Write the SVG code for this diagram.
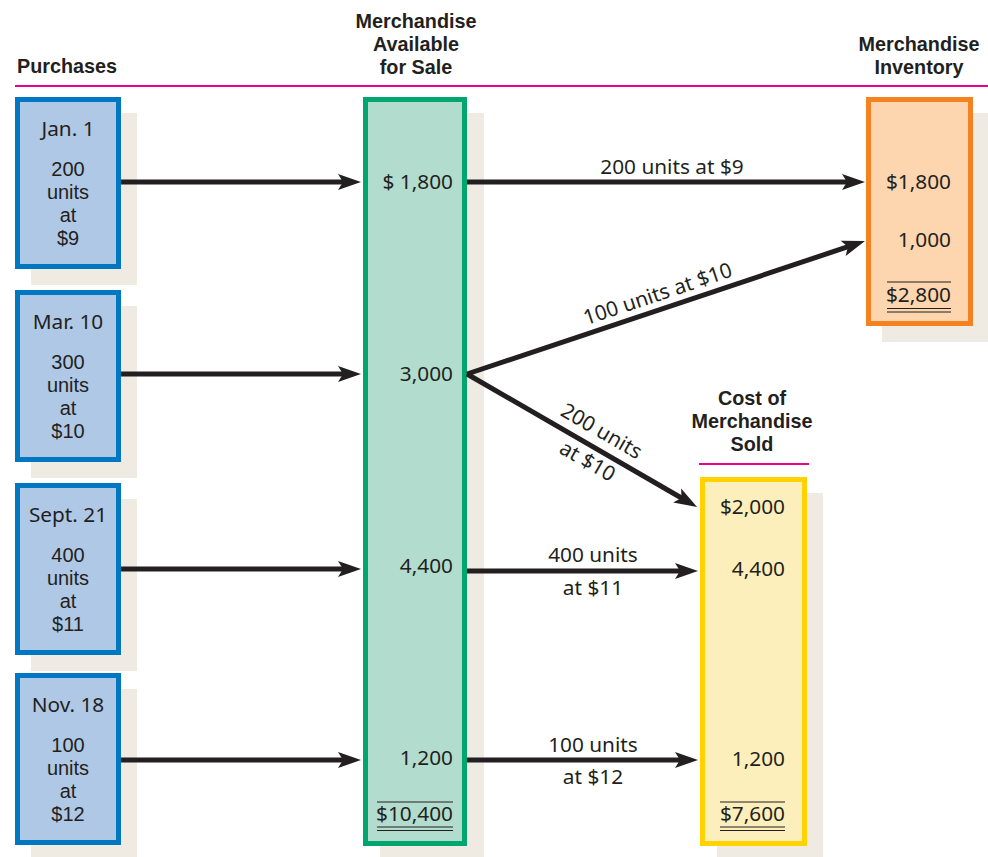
<svg xmlns="http://www.w3.org/2000/svg" width="988" height="857" viewBox="0 0 988 857">
<defs>
<style>
text{font-family:"Noto Sans","Open Sans","Liberation Sans",sans-serif;fill:#231F20;font-size:20.8px}
.h{font-weight:bold;font-size:19.8px;font-family:"Liberation Sans","Noto Sans",sans-serif}
.st{font-family:"Liberation Sans","Noto Sans",sans-serif;font-size:20px}
.m{text-anchor:middle}
.r{text-anchor:end}
.sh{fill:#EFEBE2}
.pb{fill:#AEC8E6;stroke:#0077C0;stroke-width:5}
.ln{stroke:#231F20;stroke-width:5;fill:none;marker-end:url(#ah)}
.rule{stroke:#EC008C;stroke-width:2}
.ul{stroke:#231F20;stroke-width:1.2}
</style>
<marker id="ah" markerUnits="userSpaceOnUse" markerWidth="30" markerHeight="20" viewBox="0 -10 26 20" refX="13" refY="0" orient="auto">
<path d="M0,-8 L23,0 L0,8 L5,0 Z" fill="#231F20"/>
</marker>
</defs>
<rect width="988" height="857" fill="#fff"/>

<g id="headers">
<line class="rule" x1="15" y1="86" x2="988" y2="86"/>
<text class="h" x="17" y="73">Purchases</text>
<text class="h m" x="416" y="28">Merchandise</text>
<text class="h m" x="416" y="51">Available</text>
<text class="h m" x="416" y="74">for Sale</text>
<text class="h m" x="919" y="51">Merchandise</text>
<text class="h m" x="919" y="74">Inventory</text>
</g>

<g id="purchase-jan1">
<rect class="sh" x="31" y="113" width="106" height="172"/>
<rect class="pb" x="17.5" y="99.5" width="101" height="167"/>
<text class="m" x="68" y="136">Jan. 1</text>
<text class="m st" x="68" y="176">200</text>
<text class="m st" x="68" y="199">units</text>
<text class="m st" x="68" y="222">at</text>
<text class="m st" x="68" y="245">$9</text>
</g>
<g id="purchase-mar10">
<rect class="sh" x="31" y="306" width="106" height="172"/>
<rect class="pb" x="17.5" y="292.5" width="101" height="167"/>
<text class="m" x="68" y="329">Mar. 10</text>
<text class="m st" x="68" y="369">300</text>
<text class="m st" x="68" y="392">units</text>
<text class="m st" x="68" y="415">at</text>
<text class="m st" x="68" y="438">$10</text>
</g>
<g id="purchase-sept21">
<rect class="sh" x="31" y="499" width="106" height="172"/>
<rect class="pb" x="17.5" y="485.5" width="101" height="167"/>
<text class="m" x="68" y="522">Sept. 21</text>
<text class="m st" x="68" y="562">400</text>
<text class="m st" x="68" y="585">units</text>
<text class="m st" x="68" y="608">at</text>
<text class="m st" x="68" y="631">$11</text>
</g>
<g id="purchase-nov18">
<rect class="sh" x="31" y="689" width="106" height="168"/>
<rect class="pb" x="17.5" y="675.5" width="101" height="167"/>
<text class="m" x="68" y="712">Nov. 18</text>
<text class="m st" x="68" y="752">100</text>
<text class="m st" x="68" y="775">units</text>
<text class="m st" x="68" y="798">at</text>
<text class="m st" x="68" y="821">$12</text>
</g>

<g id="available">
<rect class="sh" x="380" y="113" width="104" height="744"/>
<rect x="365.5" y="99.5" width="99" height="744" fill="#B2DDCE" stroke="#00A66E" stroke-width="5"/>
<text class="r" x="453" y="189">$ 1,800</text>
<text class="r" x="453" y="381">3,000</text>
<text class="r" x="453" y="573">4,400</text>
<text class="r" x="453" y="765">1,200</text>
<text class="r" x="453" y="821">$10,400</text>
<line class="ul" x1="377" y1="802" x2="453" y2="802"/>
<line class="ul" x1="377" y1="827" x2="453" y2="827"/>
<line class="ul" x1="377" y1="830.5" x2="453" y2="830.5"/>
</g>

<g id="inventory">
<rect class="sh" x="882" y="113" width="106" height="229"/>
<rect x="868.5" y="99.5" width="102" height="224" fill="#FDD5AE" stroke="#F58220" stroke-width="5"/>
<text class="r" x="951" y="189">$1,800</text>
<text class="r" x="951" y="247">1,000</text>
<text class="r" x="951" y="302">$2,800</text>
<line class="ul" x1="887" y1="282" x2="951" y2="282"/>
<line class="ul" x1="887" y1="308.5" x2="951" y2="308.5"/>
<line class="ul" x1="887" y1="312" x2="951" y2="312"/>
</g>

<g id="cost-sold">
<text class="h m" x="752" y="405">Cost of</text>
<text class="h m" x="752" y="428">Merchandise</text>
<text class="h m" x="752" y="451">Sold</text>
<line class="rule" x1="699" y1="464" x2="809" y2="464"/>
<rect class="sh" x="717" y="493" width="106" height="364"/>
<rect x="702.5" y="479.5" width="102" height="364" fill="#FDEFBB" stroke="#FFD200" stroke-width="5"/>
<text class="r" x="785" y="514">$2,000</text>
<text class="r" x="785" y="576">4,400</text>
<text class="r" x="785" y="766">1,200</text>
<text class="r" x="785" y="821">$7,600</text>
<line class="ul" x1="720" y1="802" x2="785" y2="802"/>
<line class="ul" x1="720" y1="827" x2="785" y2="827"/>
<line class="ul" x1="720" y1="830.5" x2="785" y2="830.5"/>
</g>

<g id="connectors">
<line class="ln" x1="121" y1="182" x2="351" y2="182"/>
<line class="ln" x1="121" y1="374" x2="351" y2="374"/>
<line class="ln" x1="121" y1="569" x2="351" y2="569"/>
<line class="ln" x1="121" y1="760" x2="351" y2="760"/>
<line class="ln" x1="467" y1="182" x2="855" y2="182"/>
<line class="ln" x1="467" y1="374" x2="855.5" y2="244.2"/>
<line class="ln" x1="467" y1="374" x2="688.4" y2="502"/>
<line class="ln" x1="467" y1="571" x2="688" y2="571"/>
<line class="ln" x1="467" y1="760" x2="688" y2="760"/>
<text class="m" x="672" y="174">200 units at $9</text>
<text class="m" transform="translate(658,295) rotate(-18.5)" x="0" y="6">100 units at $10</text>
<text class="m" transform="translate(601,432) rotate(30)" x="0" y="6">200 units</text>
<text class="m" transform="translate(587,462) rotate(30)" x="0" y="6">at $10</text>
<text class="m" x="593" y="562">400 units</text>
<text class="m" x="593" y="595">at $11</text>
<text class="m" x="593" y="752">100 units</text>
<text class="m" x="593" y="784">at $12</text>
</g>
</svg>
